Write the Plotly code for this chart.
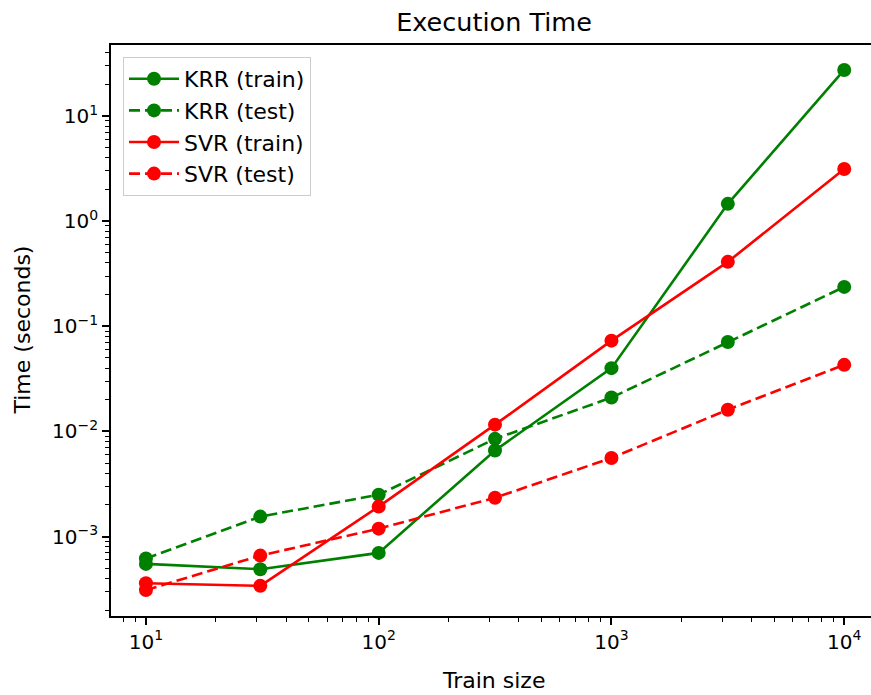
import plotly.graph_objects as go

# ---- data ----
train_sizes = [10, 31, 100, 316, 1000, 3162, 10000]
krr_train = [5.5e-4, 4.9e-4, 7.0e-4, 6.6e-3, 0.040, 1.46, 27.4]
krr_test = [6.2e-4, 1.55e-3, 2.5e-3, 8.5e-3, 0.021, 0.071, 0.237]
svr_train = [3.6e-4, 3.4e-4, 1.93e-3, 0.0116, 0.073, 0.41, 3.13]
svr_test = [3.1e-4, 6.6e-4, 1.19e-3, 2.34e-3, 5.6e-3, 0.0161, 0.043]

x_tick_vals = [10, 100, 1000, 10000]
x_tick_text = ["10<sup>1</sup>", "10<sup>2</sup>", "10<sup>3</sup>", "10<sup>4</sup>"]
y_tick_vals = [1e-3, 1e-2, 1e-1, 1, 10]
y_tick_text = ["10<sup>\u22123</sup>", "10<sup>\u22122</sup>", "10<sup>\u22121</sup>",
               "10<sup>0</sup>", "10<sup>1</sup>"]

series = [
    ("KRR (train)", krr_train, "green", "solid"),
    ("KRR (test)", krr_test, "green", "11px,5px"),
    ("SVR (train)", svr_train, "red", "solid"),
    ("SVR (test)", svr_test, "red", "11px,5px"),
]

FONT = "DejaVu Sans"
W, H = 871, 695
ML, MR, MT, MB = 111, 0, 45, 79
PW, PH = W - ML - MR, H - MT - MB

fig = go.Figure()
for i, (name, vals, color, dash) in enumerate(series):
    fig.add_trace(go.Scatter(
        x=train_sizes, y=vals, name=name, mode="lines+markers",
        line=dict(color=color, width=2.6, dash=dash),
        marker=dict(color=color, size=14, symbol="circle"),
        legendgroup=f"g{i}",
    ))

def minor_ticks(lo, hi):
    out = []
    for e in range(lo, hi + 1):
        for k in range(2, 10):
            out.append(k * 10 ** e)
    return out

fig.update_layout(
    width=W, height=H,
    margin=dict(l=ML, r=MR, t=MT, b=MB, autoexpand=False),
    paper_bgcolor="white", plot_bgcolor="white",
    font=dict(family=FONT, size=20, color="black"),
    title=dict(text="Execution Time", x=494 / W, xref="container", xanchor="center",
               y=1 - 22 / H, yref="container", yanchor="middle",
               font=dict(family=FONT, size=25.5, color="black")),
    showlegend=True,
    legend=dict(x=(123 - ML) / PW, y=(H - MB - 57) / PH, xanchor="left", yanchor="top",
                bgcolor="rgba(255,255,255,0.8)", bordercolor="#cccccc", borderwidth=1,
                font=dict(family=FONT, size=22, color="black"),
                traceorder="grouped", tracegroupgap=0, itemwidth=50),
    xaxis=dict(
        type="log", range=[0.85, 4.115], automargin=False,
        tickvals=x_tick_vals, ticktext=x_tick_text,
        ticks="outside", ticklen=7, tickwidth=1.5, tickcolor="black",
        minor=dict(tickvals=minor_ticks(0, 4), ticks="outside", ticklen=4,
                   tickwidth=1.2, tickcolor="black", showgrid=False),
        showline=True, linecolor="black", linewidth=1.6, mirror=True,
        showgrid=False, zeroline=False,
        tickfont=dict(size=20),
    ),
    yaxis=dict(
        type="log", range=[-3.755, 1.675], automargin=False,
        tickvals=y_tick_vals, ticktext=y_tick_text,
        ticks="outside", ticklen=7, tickwidth=1.5, tickcolor="black",
        minor=dict(tickvals=minor_ticks(-4, 1), ticks="outside", ticklen=4,
                   tickwidth=1.2, tickcolor="black", showgrid=False),
        showline=True, linecolor="black", linewidth=1.6, mirror=False,
        showgrid=False, zeroline=False,
        tickfont=dict(size=20),
    ),
    annotations=[
        dict(text="Train size", xref="paper", yref="paper",
             x=(494 - ML) / PW, y=(H - MB - 680) / PH, xanchor="center", yanchor="middle",
             showarrow=False, font=dict(family=FONT, size=22, color="black")),
        dict(text="Time (seconds)", xref="paper", yref="paper", textangle=-90,
             x=(22 - ML) / PW, y=0.5, xanchor="center", yanchor="middle",
             showarrow=False, font=dict(family=FONT, size=22, color="black")),
    ],
)

fig.write_html("out.html",
               config={"displayModeBar": False},
               post_script="document.body.style.margin='0px';document.body.style.overflow='hidden';")
